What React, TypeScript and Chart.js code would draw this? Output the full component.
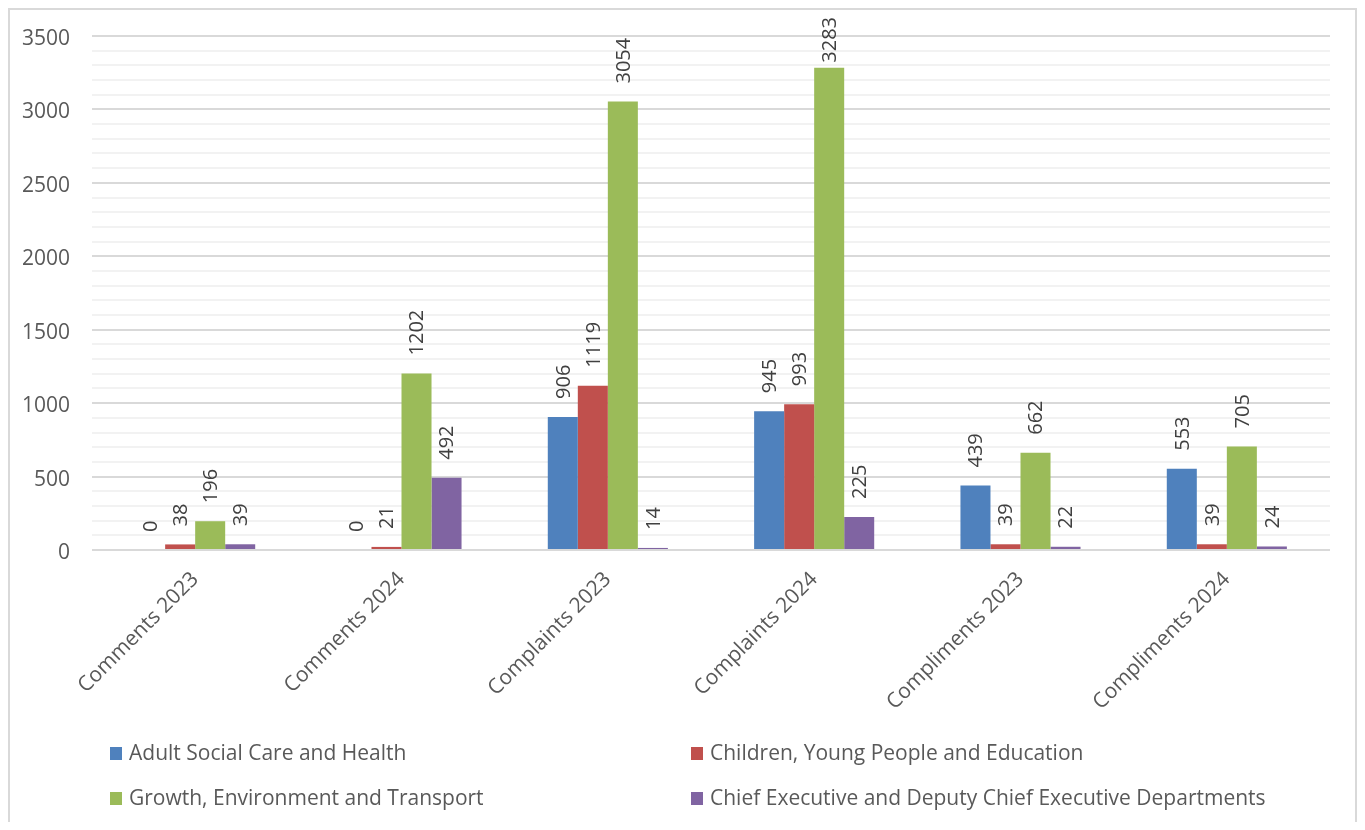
import React, { useEffect, useRef } from "react";
import { Chart, registerables } from "chart.js";

Chart.register(...registerables);

const categories = [
  "Comments 2023",
  "Comments 2024",
  "Complaints 2023",
  "Complaints 2024",
  "Compliments 2023",
  "Compliments 2024",
];

const seriesNames = [
  "Adult Social Care and Health",
  "Children, Young People and Education",
  "Growth, Environment and Transport",
  "Chief Executive and Deputy Chief Executive Departments",
];

const adultSocialCare = [0, 0, 906, 945, 439, 553];
const childrenYoungPeople = [38, 21, 1119, 993, 39, 39];
const growthEnvironment = [196, 1202, 3054, 3283, 662, 705];
const chiefExecutive = [39, 492, 14, 225, 22, 24];

const seriesColors = ["#4F81BD", "#C0504D", "#9BBB59", "#8064A2"];

const yMin = 0;
const yMax = 3500;
const yMinorStep = 100;
const yMajorStep = 500;

const TEXT = "#595959";
const LABEL = "#404040";

const dataLabelPlugin = {
  id: "barLabels",
  afterDatasetsDraw(chart: any) {
    const ctx = chart.ctx;
    ctx.save();
    ctx.font = '20px "Open Sans", sans-serif';
    ctx.fillStyle = LABEL;
    ctx.textAlign = "left";
    ctx.textBaseline = "middle";
    chart.data.datasets.forEach((ds: any, di: number) => {
      const meta = chart.getDatasetMeta(di);
      meta.data.forEach((el: any, i: number) => {
        const txt = String(ds.data[i]);
        const w = ctx.measureText(txt).width;
        let start = el.y - 18;
        const minStart = 7 + w;
        if (start < minStart) start = minStart;
        ctx.save();
        ctx.translate(el.x + 1, start);
        ctx.rotate(-Math.PI / 2);
        ctx.fillText(txt, 0, 0);
        ctx.restore();
      });
    });
    ctx.restore();
  },
};

const legendPlugin = {
  id: "gridLegend",
  afterDraw(chart: any) {
    const ctx = chart.ctx;
    ctx.save();
    ctx.font = '21px "Open Sans", sans-serif';
    ctx.textAlign = "left";
    ctx.textBaseline = "middle";
    const cols = [100, 681];
    const rows = [743, 788];
    seriesNames.forEach((name, i) => {
      const cx = cols[i % 2];
      const cy = rows[Math.floor(i / 2)];
      ctx.fillStyle = seriesColors[i];
      ctx.fillRect(cx, cy - 6, 12, 13);
      ctx.fillStyle = TEXT;
      ctx.fillText(name, cx + 19, cy + 1);
    });
    ctx.restore();
  },
};

export default function App() {
  const ref = useRef<HTMLCanvasElement | null>(null);

  useEffect(() => {
    if (!ref.current) return;
    const datasets = [adultSocialCare, childrenYoungPeople, growthEnvironment, chiefExecutive].map(
      (d, i) => ({
        label: seriesNames[i],
        data: d,
        backgroundColor: seriesColors[i],
        borderWidth: 0,
        categoryPercentage: 0.582,
        barPercentage: 1,
      })
    );
    const chart = new Chart(ref.current, {
      type: "bar",
      data: { labels: categories, datasets },
      options: {
        animation: false,
        responsive: false,
        maintainAspectRatio: false,
        devicePixelRatio: 1,
        layout: { padding: { top: 26, right: 25, left: 0, bottom: 0 } },
        plugins: {
          legend: { display: false },
          tooltip: { enabled: false },
          title: { display: false },
        },
        scales: {
          x: {
            grid: { display: false, drawTicks: false },
            border: { display: false },
            ticks: {
              color: TEXT,
              font: { family: '"Open Sans", sans-serif', size: 21 },
              maxRotation: 45,
              minRotation: 45,
              padding: 17,
              autoSkip: false,
            },
            afterFit(scale: any) {
              scale.height = 272;
            },
          },
          y: {
            min: yMin,
            max: yMax,
            border: { display: false },
            grid: {
              drawTicks: false,
              lineWidth: 2,
              color: (c: any) =>
                c.tick && c.tick.value % yMajorStep === 0 ? "#D9D9D9" : "#F2F2F2",
            },
            ticks: {
              stepSize: yMinorStep,
              autoSkip: false,
              maxTicksLimit: 1000,
              color: TEXT,
              padding: 22,
              labelOffset: 3,
              font: { family: '"Open Sans", sans-serif', size: 21 },
              callback: (v: any) => (Number(v) % yMajorStep === 0 ? String(v) : ""),
            },
            afterFit(scale: any) {
              scale.width = 82;
              scale.paddingTop = 0;
              scale.paddingBottom = 0;
            },
          },
        },
      },
      plugins: [dataLabelPlugin, legendPlugin],
    });
    return () => chart.destroy();
  }, []);

  return (
    <div
      style={{
        position: "relative",
        width: 1349,
        height: 814,
        boxSizing: "border-box",
        border: "2px solid #D9D9D9",
        borderBottom: "none",
        background: "#fff",
      }}
    >
      <canvas ref={ref} width={1345} height={812} style={{ display: "block", width: 1345, height: 812 }} />
    </div>
  );
}
